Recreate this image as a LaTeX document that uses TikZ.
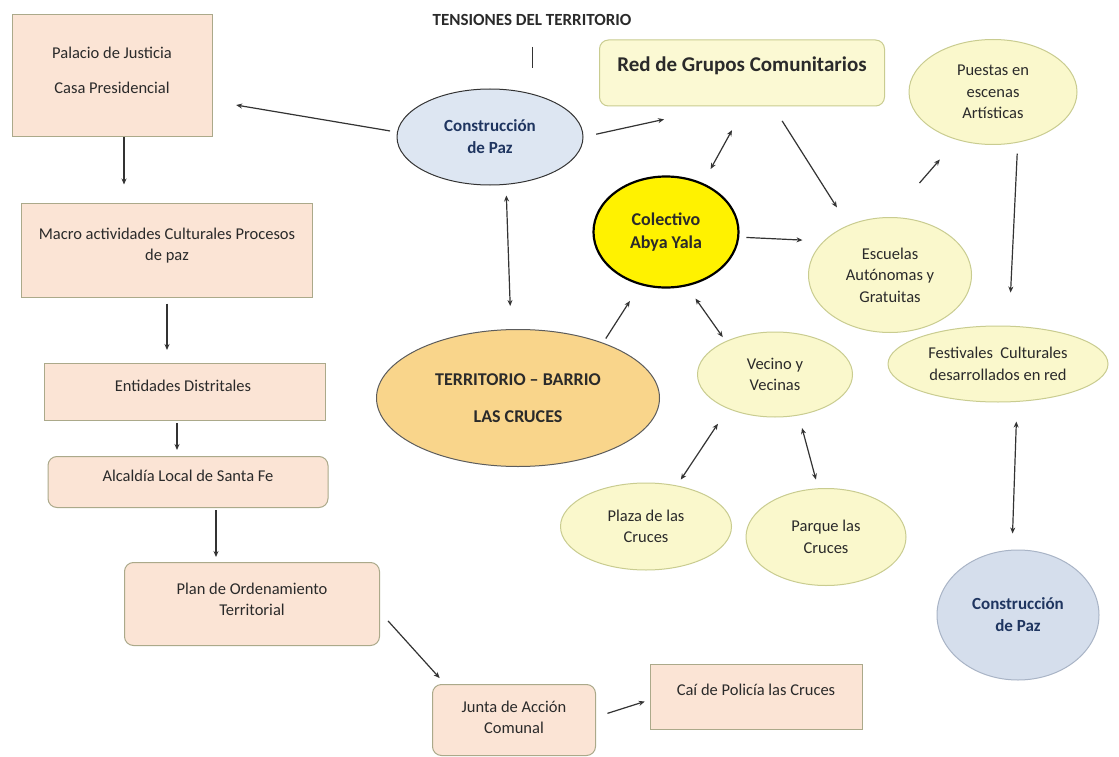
\documentclass[tikz,border=0pt]{standalone}
\usepackage{fontspec}
\setmainfont{Carlito}
\usetikzlibrary{shapes.geometric,arrows.meta,calc}
\definecolor{peach}{HTML}{FBE4D5}
\definecolor{peachline}{HTML}{ABA98A}
\definecolor{yfill}{HTML}{FAF8CC}
\definecolor{yline}{HTML}{C9CC90}
\definecolor{redfill}{HTML}{FBF9D3}
\definecolor{bluefill}{HTML}{DDE6F2}
\definecolor{bluefillb}{HTML}{D5DEEC}
\definecolor{blueline}{HTML}{A9B4C6}
\definecolor{terfill}{HTML}{F9D58B}
\definecolor{ink}{HTML}{2A2A2A}
\definecolor{navy}{HTML}{1F3560}
\definecolor{arrowc}{HTML}{333333}
\begin{document}
\begin{tikzpicture}[x=1pt,y=-1pt,
  box/.style={draw=peachline, fill=peach, line width=1pt, inner sep=0pt},
  rbox/.style={box, rounded corners=9pt},
  ell/.style={ellipse, draw=yline, fill=yfill, line width=1pt, inner sep=0pt, align=center,
     font=\fontsize{16.5}{21.5}\selectfont, text=ink},
  txt/.style={font=\fontsize{16.5}{21}\selectfont, text=ink, align=center, inner sep=0pt},
  btxt/.style={font=\bfseries\fontsize{17}{21}\selectfont, text=ink, align=center, inner sep=0pt},
  arr/.style={draw=arrowc, line width=1.2pt, -{Stealth[length=6pt,width=5pt]}},
  darr/.style={draw=arrowc, line width=1.2pt, {Stealth[length=6pt,width=5pt]}-{Stealth[length=6pt,width=5pt]}}
]
\useasboundingbox (0,0) rectangle (1119,757);
\fill[white] (0,0) rectangle (1119,757);

% left column boxes
\node[box, minimum width=200pt, minimum height=122pt] (pal) at (112,76) {};
\node[txt] (palT) at (112,70) {Palacio de Justicia\\[14pt]Casa Presidencial};
\node[box, minimum width=291pt, minimum height=94pt] (mac) at (167,250) {};
\node[txt] (macT) at (167,245.5) {Macro actividades Culturales Procesos\\de paz};
\node[box, minimum width=281pt, minimum height=57pt] (ent) at (185,392) {};
\node[txt] (entT) at (183,386) {Entidades Distritales};
\node[rbox, minimum width=280pt, minimum height=51pt] (alc) at (188,482) {};
\node[txt] (alcT) at (188,476) {Alcaldía Local de Santa Fe};
\node[rbox, minimum width=255pt, minimum height=83pt] (pot) at (252,604) {};
\node[txt] (potT) at (252,599) {Plan de Ordenamiento\\Territorial};
\node[rbox, minimum width=163pt, minimum height=71pt] (jac) at (514,720) {};
\node[txt] (jacT) at (514,717.5) {Junta de Acción\\Comunal};
\node[box, minimum width=212pt, minimum height=65pt] (cai) at (756,697) {};
\node[txt] (caiT) at (756,690) {Caí de Policía las Cruces};

% title
\node[btxt] (titT) at (532,20) {TENSIONES DEL TERRITORIO};
\coordinate (tk1) at (532,47);
\coordinate (tk2) at (532,68);
\draw[draw=arrowc, line width=1pt] (tk1) -- (tk2);

% red box
\node[rbox, draw=yline, fill=redfill, minimum width=285pt, minimum height=66pt] (red) at (742,73) {};
\node[font=\bfseries\fontsize{21}{24}\selectfont, text=ink, inner sep=0pt] (redT) at (742,66) {Red de Grupos Comunitarios};

% ellipses
\node[ell, draw=arrowc, fill=bluefill, minimum width=186pt, minimum height=96pt,
  font=\bfseries\fontsize{17}{22}\selectfont, text=navy] (cp1) at (490,137) {Construcción\\de Paz};
\node[ell, minimum width=168pt, minimum height=105pt] (pue) at (993,92) {Puestas en\\escenas\\Artísticas};
\node[ell, draw=black, line width=2.2pt, fill=yellow, minimum width=145pt, minimum height=111pt,
  font=\bfseries\fontsize{18}{23}\selectfont] (col) at (666,232) {Colectivo\\Abya Yala};
\node[ell, minimum width=163pt, minimum height=115pt] (esc) at (890,275) {Escuelas\\Autónomas y\\Gratuitas};
\node[ell, minimum width=220pt, minimum height=76pt] (fes) at (998,364) {Festivales \ Culturales\\desarrollados en red};
\node[ell, minimum width=155pt, minimum height=85pt] (vec) at (775,374.5) {Vecino y\\Vecinas};
\node[ell, draw=arrowc!80, fill=terfill, minimum width=283pt, minimum height=137pt,
  font=\bfseries\fontsize{18}{21}\selectfont] (ter) at (518,398) {TERRITORIO – BARRIO\\[16pt]LAS CRUCES};
\node[ell, minimum width=171pt, minimum height=87pt] (pla) at (646,526.5) {Plaza de las\\Cruces};
\node[ell, minimum width=160pt, minimum height=97pt] (par) at (826,537) {Parque las\\Cruces};
\node[ell, draw=blueline, fill=bluefillb, minimum width=162pt, minimum height=130pt,
  font=\bfseries\fontsize{17}{22}\selectfont, text=navy] (cp2) at (1018,615) {Construcción\\de Paz};

% connectors
\draw[arr, shorten <=7pt, shorten >=24pt] (cp1.177) -- (pal.-14);
\draw[arr, shorten <=13pt, shorten >=60pt] (cp1.east) -- (red.-120);
\draw[arr, shorten >=18pt] ([xshift=12pt]pal.south) -- ([xshift=-43pt]mac.north);
\draw[arr, shorten <=6pt, shorten >=13pt] (mac.south) -- ([xshift=-18pt]ent.north);
\draw[arr, shorten <=2pt, shorten >=6pt] ([xshift=-8pt]ent.south) -- ([xshift=-11pt]alc.north);
\draw[arr, shorten <=2pt, shorten >=5pt] ([xshift=28pt]alc.south) -- ([xshift=-36pt]pot.north);
\draw[arr, shorten <=12pt, shorten >=8pt] ([yshift=-8pt]pot.east) -- ([xshift=-69pt]jac.north);
\draw[arr, shorten <=12pt, shorten >=5pt] ([yshift=3pt]jac.east) -- ([yshift=-3pt]cai.west);
\draw[darr, shorten <=10pt, shorten >=23pt] ([xshift=16pt]cp1.south) -- ([xshift=-7pt]ter.north);
\draw[arr, shorten <=5pt, shorten >=19pt] (ter.33) -- (col.244);
\draw[darr, shorten <=16pt, shorten >=27pt] (col.53) -- ([xshift=3pt]red.south);
\draw[arr, shorten <=17pt, shorten >=21pt] ([xshift=31pt]red.south) -- (esc.130);
\draw[arr, shorten <=7pt, shorten >=21pt] (col.-4) -- (esc.153);
\draw[arr, shorten <=45pt, shorten >=26pt] (esc.north) -- (pue.233);
\draw[arr, shorten <=11pt, shorten >=33pt] (pue.-64.5) -- ([xshift=11pt]fes.north);
\draw[darr, shorten <=19pt, shorten >=16pt] ([xshift=19pt]fes.south) -- ([xshift=-6pt]cp2.north);
\draw[darr, shorten <=15pt, shorten >=5pt] (col.-69.5) -- (vec.146);
\draw[darr, shorten <=18pt, shorten >=7pt] (vec.216) -- (pla.53.5);
\draw[darr, shorten <=13pt, shorten >=9pt] (vec.-60.5) -- (par.99);
\end{tikzpicture}
\end{document}
